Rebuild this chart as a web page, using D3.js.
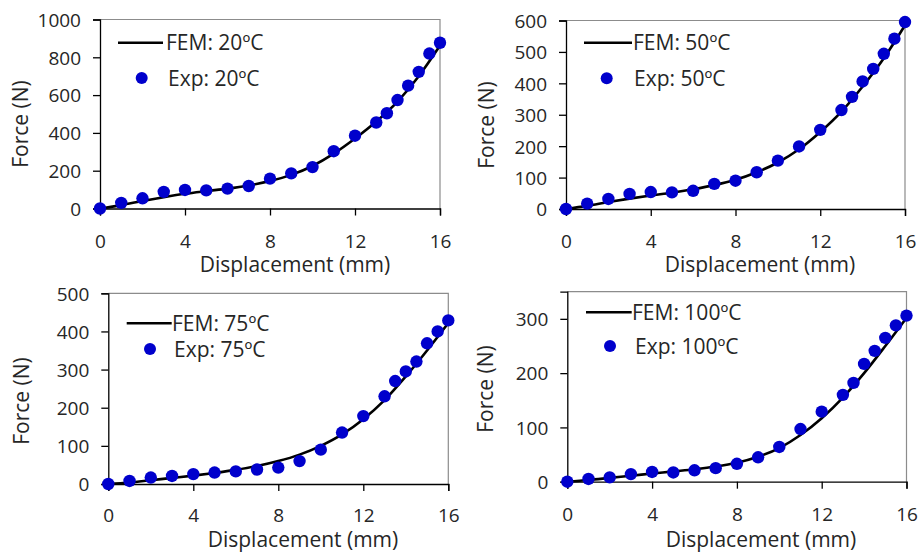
<!DOCTYPE html>
<html>
<head>
<meta charset="utf-8">
<script src="https://cdn.jsdelivr.net/npm/d3@7"></script>
<style>
  html, body { margin: 0; padding: 0; background: #fff; }
  svg { display: block; }
  text { font-family: "Open Sans", "Noto Sans", sans-serif; fill: #262626; }
</style>
</head>
<body>
<svg id="chart" width="921" height="552"></svg>
<script>
// Force–displacement response at four temperatures: FEM curve vs. experiment.
const expDisp = [0, 1, 2, 3, 4, 5, 6, 7, 8, 9, 10, 11, 12, 13, 13.5, 14, 14.5, 15, 15.5, 16];
const femDisp = [0, 1, 2, 3, 4, 5, 6, 7, 8, 9, 10, 11, 12, 13, 14, 15, 16];

const exp20  = [0, 30, 54, 88, 98, 96, 105, 119, 158, 186, 219, 303, 385, 455, 504, 574, 650, 723, 820, 877];
const fem20  = [0, 18, 40, 60, 78, 92, 105, 122, 145, 178, 225, 290, 370, 460, 566, 700, 862];

const exp50  = [0, 17, 32, 48, 54, 53, 58, 80, 90, 117, 154, 199, 252, 315, 357, 406, 446, 494, 542, 595];
const fem50  = [0, 10, 22, 33, 43, 52, 63, 76, 93, 117, 148, 190, 245, 310, 390, 480, 585];

const exp75  = [0, 8, 17, 21, 26, 30, 33, 38, 43, 60, 90, 135, 178, 230, 270, 295, 321, 369, 400, 429];
const fem75  = [0, 4, 10, 16, 22, 29, 37, 47, 60, 77, 100, 130, 170, 220, 282, 350, 422];

const exp100 = [0, 5, 8, 14, 18, 17, 21, 25, 33, 45, 64, 97, 129, 160, 182, 217, 241, 265, 288, 306];
const fem100 = [0, 3, 7, 11, 15, 19, 23, 28, 35, 46, 62, 86, 117, 155, 200, 250, 302];

const temps = ["20ºC", "50ºC", "75ºC", "100ºC"];
const xTicks = [0, 4, 8, 12, 16];
const yMax = [1000, 600, 500, 350];
const yStep = [200, 100, 100, 100];

const xTitle = "Displacement (mm)";
const yTitle = "Force (N)";

// Panel frames and label anchors (page pixels)
const layout = [
  { l: 100,   r: 440,   t: 19.5,  b: 208.5, yt: [20, 124], xt: [295, 271.5], xl: 248,
    leg: { l1: 118, l2: 163, ly: 42.7, tx: 166, mx: 141.7, my: 78, tx2: 168 } },
  { l: 566,   r: 905,   t: 20.5,  b: 209,   yt: [486, 125], xt: [760, 271.5], xl: 248,
    leg: { l1: 584, l2: 632, ly: 42.7, tx: 633, mx: 606.7, my: 78.3, tx2: 634 } },
  { l: 108.3, r: 448.3, t: 293.3, b: 484,   yt: [21, 401], xt: [303, 547], xl: 521.5,
    leg: { l1: 126.7, l2: 171.7, ly: 323.3, tx: 172, mx: 150, my: 349, tx2: 174 } },
  { l: 567.3, r: 906.5, t: 291.7, b: 481.7, yt: [485, 389], xt: [761, 547], xl: 521.5,
    leg: { l1: 586, l2: 631.7, ly: 312.3, tx: 632, mx: 610, my: 346, tx2: 635 } }
];

const panels = [
  { exp: exp20,  fem: fem20 },
  { exp: exp50,  fem: fem50 },
  { exp: exp75,  fem: fem75 },
  { exp: exp100, fem: fem100 }
];

const blue = "#0000cc";
const svg = d3.select("#chart");

panels.forEach((p, i) => {
  const L = layout[i];
  const x = d3.scaleLinear().domain([0, 16]).range([L.l, L.r]);
  const y = d3.scaleLinear().domain([0, yMax[i]]).range([L.b, L.t]);
  const g = svg.append("g");

  // frame: top and right edges
  g.append("path")
    .attr("d", `M${L.l},${L.t}H${L.r}V${L.b}`)
    .attr("fill", "none").attr("stroke", "#8c8c8c").attr("stroke-width", 1.2);

  const yTickVals = d3.range(0, yMax[i] + 1, yStep[i]);
  const yAxis = g.append("g")
    .attr("transform", `translate(${L.l},0)`)
    .call(d3.axisLeft(y).tickValues(yTickVals).tickSize(7).tickPadding(12).tickFormat(d3.format("d")));
  const xAxis = g.append("g")
    .attr("transform", `translate(0,${L.b})`)
    .call(d3.axisBottom(x).tickValues(xTicks).tickSize(7).tickPadding(0).tickFormat(d3.format("d")));

  [yAxis, xAxis].forEach(a => {
    a.select(".domain").attr("stroke", "#000").attr("stroke-width", 1.3);
    a.selectAll(".tick line").attr("stroke", "#000").attr("stroke-width", 1.3);
    a.selectAll(".tick text").attr("font-size", 19).attr("fill", "#262626")
      .style("font-family", '"Open Sans", sans-serif');
  });
  yAxis.selectAll(".tick text").attr("dy", "0.36em");
  xAxis.selectAll(".tick text").attr("dy", null).attr("y", L.xl - L.b);

  // FEM curve
  const line = d3.line()
    .x((d, k) => x(femDisp[k]))
    .y(d => y(d))
    .curve(d3.curveMonotoneX);
  g.append("path")
    .datum(p.fem)
    .attr("d", line)
    .attr("fill", "none")
    .attr("stroke", "#000")
    .attr("stroke-width", 2.6);

  // experimental points
  g.selectAll("circle.exp")
    .data(p.exp)
    .join("circle")
    .attr("class", "exp")
    .attr("cx", (d, k) => x(expDisp[k]))
    .attr("cy", d => y(d))
    .attr("r", 6.2)
    .attr("fill", blue);

  // legend
  const lg = L.leg;
  g.append("line")
    .attr("x1", lg.l1).attr("x2", lg.l2).attr("y1", lg.ly).attr("y2", lg.ly)
    .attr("stroke", "#000").attr("stroke-width", 2.6);
  g.append("text")
    .attr("x", lg.tx).attr("y", lg.ly).attr("dy", "0.36em")
    .attr("font-size", 21)
    .text("FEM: " + temps[i]);
  g.append("circle")
    .attr("cx", lg.mx).attr("cy", lg.my).attr("r", 6).attr("fill", blue);
  g.append("text")
    .attr("x", lg.tx2).attr("y", lg.my).attr("dy", "0.36em")
    .attr("font-size", 21)
    .text("Exp: " + temps[i]);

  // axis titles
  g.append("text")
    .attr("x", L.xt[0]).attr("y", L.xt[1])
    .attr("text-anchor", "middle")
    .attr("font-size", 21)
    .text(xTitle);
  g.append("text")
    .attr("transform", `translate(${L.yt[0]},${L.yt[1]}) rotate(-90)`)
    .attr("text-anchor", "middle")
    .attr("dy", "0.36em")
    .attr("font-size", 21)
    .text(yTitle);
});
</script>
</body>
</html>
